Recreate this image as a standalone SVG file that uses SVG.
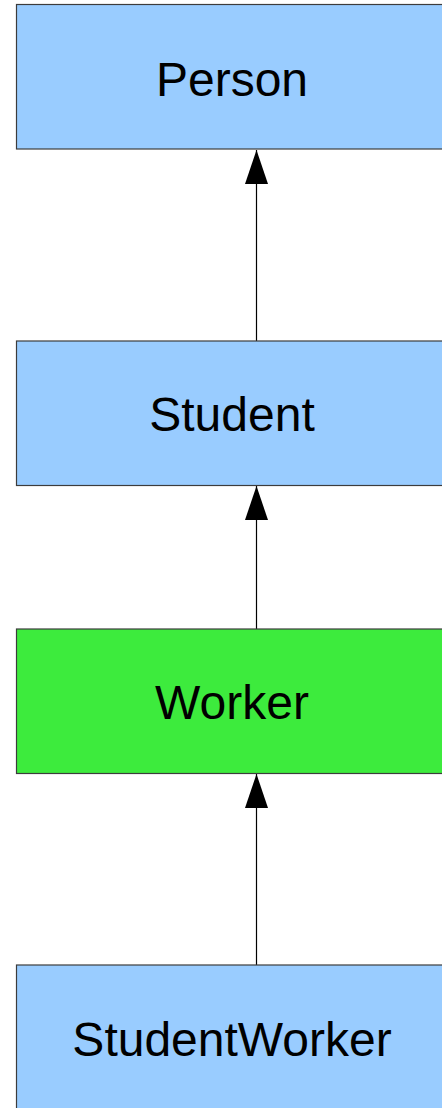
<svg xmlns="http://www.w3.org/2000/svg" width="442" height="1108" viewBox="0 0 442 1108">
<style>
.box{stroke:#3c3c3c;stroke-width:1.2}
.blue{fill:#99ccff}
.green{fill:#3deb3d}
.lbl{font-family:"Liberation Sans",Arial,sans-serif;font-size:48px;fill:#000;text-anchor:middle}
.conn{stroke:#000;stroke-width:1.2;fill:none}
</style>
<defs>
<marker id="arr" markerUnits="userSpaceOnUse" markerWidth="34" markerHeight="23" refX="34" refY="11.5" orient="auto" viewBox="0 0 34 23">
<path d="M34 11.5 L0 0 L0 23 Z" fill="#000"/>
</marker>
</defs>
<g id="connectors">
<line class="conn" x1="256.5" y1="341" x2="256.5" y2="150" marker-end="url(#arr)"/>
<line class="conn" x1="256.5" y1="629" x2="256.5" y2="486" marker-end="url(#arr)"/>
<line class="conn" x1="256.5" y1="965" x2="256.5" y2="774" marker-end="url(#arr)"/>
</g>
<g id="person">
<rect class="box blue" x="16.5" y="4.5" width="432" height="144.5"/>
<text class="lbl" x="232" y="96">Person</text>
</g>
<g id="student">
<rect class="box blue" x="16.5" y="341" width="432" height="144.5"/>
<text class="lbl" x="232" y="431">Student</text>
</g>
<g id="worker">
<rect class="box green" x="16.5" y="629" width="432" height="144.5"/>
<text class="lbl" x="232" y="719">Worker</text>
</g>
<g id="studentworker">
<rect class="box blue" x="16.5" y="965" width="432" height="150"/>
<text class="lbl" x="232" y="1056">StudentWorker</text>
</g>
</svg>
